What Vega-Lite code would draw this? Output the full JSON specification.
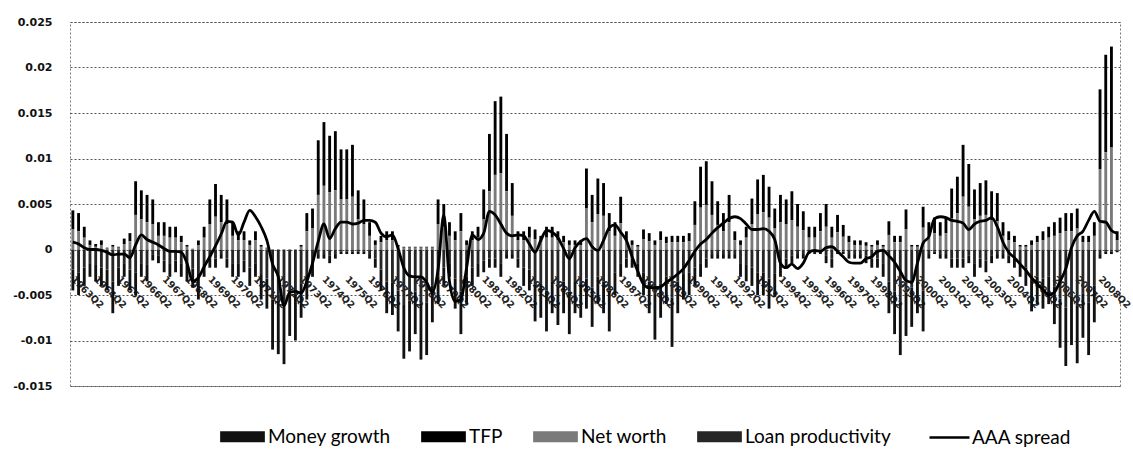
{
"$schema":"https://vega.github.io/schema/vega-lite/v6.json",
"width":1050,"height":364,
"autosize":{"type":"none"},
"padding":{"left":70,"top":22,"right":13,"bottom":63},
"background":"white",
"config":{"view":{"stroke":"#777","strokeDash":[2,2]},"font":"DejaVu Sans",
"axisX":{"title":null,"domain":false,"ticks":false,"grid":false,"labelAngle":45,"labelAlign":"left","labelBaseline":"middle","labelPadding":28,"labelFontSize":9.5,"labelFontWeight":"bold","labelColor":"#222","offset":-136.5,"zindex":1,"labelOverlap":false,"labelExpr":"indexof(datum.value,'Q2')>0 ? datum.value : ''"},
"axisY":{"title":null,"domain":false,"ticks":false,"grid":true,"gridDash":[2,2],"gridColor":"#555","values":[-0.015,-0.01,-0.005,0,0.005,0.01,0.015,0.02,0.025],"labelFont":"DejaVu Sans","labelFontWeight":"bold","labelFontSize":11,"labelPadding":18,"labelColor":"#111","labelExpr":"toString(datum.value)"}},
"data":{"values":[
{"q":"1963Q2","mg":-0.0023,"tfp":0.0021,"nw":0.0022,"lp":-0.0022,"aaa":0.0008},
{"q":"1963Q3","mg":-0.0025,"tfp":0.002,"nw":0.002,"lp":-0.0025,"aaa":0.0006},
{"q":"1963Q4","mg":-0.002,"tfp":0.0012,"nw":0.0013,"lp":-0.002,"aaa":0.0002},
{"q":"1964Q1","mg":-0.0015,"tfp":0.0005,"nw":0.0005,"lp":-0.0015,"aaa":0},
{"q":"1964Q2","mg":-0.0018,"tfp":0.0003,"nw":0.0003,"lp":-0.0017,"aaa":0},
{"q":"1964Q3","mg":-0.002,"tfp":0.0005,"nw":0.0005,"lp":-0.002,"aaa":-0.0001},
{"q":"1964Q4","mg":-0.0023,"tfp":0.0001,"nw":0.0001,"lp":-0.0022,"aaa":-0.0003},
{"q":"1965Q1","mg":-0.0035,"tfp":0.0002,"nw":0.0003,"lp":-0.0035,"aaa":-0.0006},
{"q":"1965Q2","mg":-0.002,"tfp":0.0001,"nw":0.0002,"lp":-0.002,"aaa":-0.0005},
{"q":"1965Q3","mg":-0.0015,"tfp":0.0006,"nw":0.0006,"lp":-0.0015,"aaa":-0.0005},
{"q":"1965Q4","mg":-0.0023,"tfp":0.0009,"nw":0.0009,"lp":-0.0022,"aaa":-0.0009},
{"q":"1966Q1","mg":-0.0025,"tfp":0.0037,"nw":0.0038,"lp":-0.0025,"aaa":0.0005},
{"q":"1966Q2","mg":-0.0015,"tfp":0.0032,"nw":0.0033,"lp":-0.0015,"aaa":0.0016},
{"q":"1966Q3","mg":-0.0018,"tfp":0.003,"nw":0.003,"lp":-0.0017,"aaa":0.0011},
{"q":"1966Q4","mg":-0.0006,"tfp":0.0027,"nw":0.0028,"lp":-0.0006,"aaa":0.0008},
{"q":"1967Q1","mg":-0.0008,"tfp":0.0015,"nw":0.0015,"lp":-0.0007,"aaa":0.0005},
{"q":"1967Q2","mg":-0.0013,"tfp":0.0015,"nw":0.0015,"lp":-0.0012,"aaa":0.0001},
{"q":"1967Q3","mg":-0.0015,"tfp":0.0012,"nw":0.0013,"lp":-0.0015,"aaa":-0.0002},
{"q":"1967Q4","mg":-0.0013,"tfp":0.0012,"nw":0.0013,"lp":-0.0012,"aaa":-0.0002},
{"q":"1968Q1","mg":-0.0015,"tfp":0.0007,"nw":0.0008,"lp":-0.0015,"aaa":-0.0003},
{"q":"1968Q2","mg":-0.0018,"tfp":0.0002,"nw":0.0003,"lp":-0.0017,"aaa":-0.0015},
{"q":"1968Q3","mg":-0.0021,"tfp":0,"nw":0.0001,"lp":-0.0021,"aaa":-0.0035},
{"q":"1968Q4","mg":-0.0028,"tfp":0.0005,"nw":0.0005,"lp":-0.0027,"aaa":-0.0031},
{"q":"1969Q1","mg":-0.0015,"tfp":0.0012,"nw":0.0013,"lp":-0.0015,"aaa":-0.0019},
{"q":"1969Q2","mg":-0.001,"tfp":0.0027,"nw":0.0028,"lp":-0.001,"aaa":-0.0008},
{"q":"1969Q3","mg":-0.001,"tfp":0.0036,"nw":0.0036,"lp":-0.001,"aaa":0.0004},
{"q":"1969Q4","mg":-0.0005,"tfp":0.003,"nw":0.003,"lp":-0.0005,"aaa":0.0017},
{"q":"1970Q1","mg":-0.001,"tfp":0.0027,"nw":0.0028,"lp":-0.001,"aaa":0.0031},
{"q":"1970Q2","mg":-0.0015,"tfp":0.0015,"nw":0.0015,"lp":-0.0015,"aaa":0.003},
{"q":"1970Q3","mg":-0.0015,"tfp":0.001,"nw":0.001,"lp":-0.0015,"aaa":0.0016},
{"q":"1970Q4","mg":-0.0013,"tfp":0.001,"nw":0.001,"lp":-0.0012,"aaa":0.003},
{"q":"1971Q1","mg":-0.002,"tfp":0.0005,"nw":0.0005,"lp":-0.002,"aaa":0.0043},
{"q":"1971Q2","mg":-0.0015,"tfp":0.001,"nw":0.001,"lp":-0.0015,"aaa":0.0036},
{"q":"1971Q3","mg":-0.0028,"tfp":0.0002,"nw":0.0003,"lp":-0.0027,"aaa":0.0025},
{"q":"1971Q4","mg":-0.0033,"tfp":0.0001,"nw":0.0001,"lp":-0.0032,"aaa":0.001},
{"q":"1972Q1","mg":-0.0055,"tfp":0,"nw":0,"lp":-0.0055,"aaa":-0.0016},
{"q":"1972Q2","mg":-0.0058,"tfp":0,"nw":0,"lp":-0.0057,"aaa":-0.003},
{"q":"1972Q3","mg":-0.0063,"tfp":0,"nw":0,"lp":-0.0063,"aaa":-0.0062},
{"q":"1972Q4","mg":-0.0048,"tfp":0,"nw":0,"lp":-0.0047,"aaa":-0.0047},
{"q":"1973Q1","mg":-0.005,"tfp":0,"nw":0,"lp":-0.005,"aaa":-0.0046},
{"q":"1973Q2","mg":-0.0038,"tfp":0.0002,"nw":0.0003,"lp":-0.0037,"aaa":-0.0048},
{"q":"1973Q3","mg":-0.0028,"tfp":0.002,"nw":0.002,"lp":-0.0027,"aaa":-0.0035},
{"q":"1973Q4","mg":-0.0015,"tfp":0.0022,"nw":0.0023,"lp":-0.0015,"aaa":-0.0015},
{"q":"1974Q1","mg":-0.0005,"tfp":0.006,"nw":0.006,"lp":-0.0005,"aaa":0.0009},
{"q":"1974Q2","mg":-0.0005,"tfp":0.007,"nw":0.007,"lp":-0.0005,"aaa":0.0028},
{"q":"1974Q3","mg":-0.0008,"tfp":0.0062,"nw":0.0063,"lp":-0.0007,"aaa":0.0012},
{"q":"1974Q4","mg":-0.0005,"tfp":0.0065,"nw":0.0065,"lp":-0.0005,"aaa":0.0023},
{"q":"1975Q1","mg":-0.0003,"tfp":0.0055,"nw":0.0055,"lp":-0.0002,"aaa":0.003},
{"q":"1975Q2","mg":-0.0003,"tfp":0.0055,"nw":0.0055,"lp":-0.0002,"aaa":0.003},
{"q":"1975Q3","mg":-0.0003,"tfp":0.0057,"nw":0.0058,"lp":-0.0002,"aaa":0.0028},
{"q":"1975Q4","mg":-0.0003,"tfp":0.0032,"nw":0.0033,"lp":-0.0002,"aaa":0.0029},
{"q":"1976Q1","mg":-0.0003,"tfp":0.0027,"nw":0.0028,"lp":-0.0002,"aaa":0.0032},
{"q":"1976Q2","mg":-0.0005,"tfp":0.0015,"nw":0.0015,"lp":-0.0005,"aaa":0.0032},
{"q":"1976Q3","mg":-0.001,"tfp":0.0005,"nw":0.0005,"lp":-0.001,"aaa":0.003},
{"q":"1976Q4","mg":-0.0023,"tfp":0.0007,"nw":0.0008,"lp":-0.0022,"aaa":0.0018},
{"q":"1977Q1","mg":-0.0035,"tfp":0.001,"nw":0.001,"lp":-0.0035,"aaa":0.0014},
{"q":"1977Q2","mg":-0.0036,"tfp":0.001,"nw":0.001,"lp":-0.0036,"aaa":0.0016},
{"q":"1977Q3","mg":-0.0045,"tfp":0.0002,"nw":0.0003,"lp":-0.0045,"aaa":0.0001},
{"q":"1977Q4","mg":-0.006,"tfp":0.0001,"nw":0.0002,"lp":-0.006,"aaa":-0.002},
{"q":"1978Q1","mg":-0.0056,"tfp":0.0001,"nw":0.0002,"lp":-0.0056,"aaa":-0.0029},
{"q":"1978Q2","mg":-0.0047,"tfp":0.0001,"nw":0.0002,"lp":-0.0046,"aaa":-0.003},
{"q":"1978Q3","mg":-0.0061,"tfp":0.0001,"nw":0.0002,"lp":-0.006,"aaa":-0.003},
{"q":"1978Q4","mg":-0.0058,"tfp":0.0001,"nw":0.0002,"lp":-0.0058,"aaa":-0.0036},
{"q":"1979Q1","mg":-0.004,"tfp":0.0001,"nw":0.0002,"lp":-0.004,"aaa":-0.0047},
{"q":"1979Q2","mg":-0.003,"tfp":0.0027,"nw":0.0028,"lp":-0.003,"aaa":-0.0022},
{"q":"1979Q3","mg":-0.002,"tfp":0.0025,"nw":0.0025,"lp":-0.002,"aaa":0.0038},
{"q":"1979Q4","mg":-0.0015,"tfp":0.0015,"nw":0.0015,"lp":-0.0015,"aaa":-0.0035},
{"q":"1980Q1","mg":-0.0033,"tfp":0.001,"nw":0.001,"lp":-0.0032,"aaa":-0.0057},
{"q":"1980Q2","mg":-0.0047,"tfp":0.002,"nw":0.002,"lp":-0.0046,"aaa":-0.0055},
{"q":"1980Q3","mg":-0.003,"tfp":0.0005,"nw":0.0005,"lp":-0.003,"aaa":-0.002},
{"q":"1980Q4","mg":-0.002,"tfp":0.001,"nw":0.001,"lp":-0.002,"aaa":0.0016},
{"q":"1981Q1","mg":-0.0015,"tfp":0.0012,"nw":0.0013,"lp":-0.0015,"aaa":0.0011},
{"q":"1981Q2","mg":-0.0013,"tfp":0.0033,"nw":0.0033,"lp":-0.0012,"aaa":0.0018},
{"q":"1981Q3","mg":-0.001,"tfp":0.0063,"nw":0.0064,"lp":-0.001,"aaa":0.0042},
{"q":"1981Q4","mg":-0.001,"tfp":0.0081,"nw":0.0082,"lp":-0.001,"aaa":0.0038},
{"q":"1982Q1","mg":-0.0015,"tfp":0.0084,"nw":0.0084,"lp":-0.0015,"aaa":0.0028},
{"q":"1982Q2","mg":-0.0005,"tfp":0.0063,"nw":0.0064,"lp":-0.0005,"aaa":0.0018},
{"q":"1982Q3","mg":-0.0005,"tfp":0.0036,"nw":0.0037,"lp":-0.0005,"aaa":0.0015},
{"q":"1982Q4","mg":-0.001,"tfp":0.001,"nw":0.001,"lp":-0.001,"aaa":0.0016},
{"q":"1983Q1","mg":-0.002,"tfp":0.001,"nw":0.001,"lp":-0.002,"aaa":0.0015},
{"q":"1983Q2","mg":-0.0023,"tfp":0.0012,"nw":0.0013,"lp":-0.0022,"aaa":0.0006},
{"q":"1983Q3","mg":-0.004,"tfp":0.0011,"nw":0.0011,"lp":-0.0039,"aaa":-0.0003},
{"q":"1983Q4","mg":-0.0038,"tfp":0.0007,"nw":0.0008,"lp":-0.0037,"aaa":0.001},
{"q":"1984Q1","mg":-0.0045,"tfp":0.0012,"nw":0.0013,"lp":-0.0045,"aaa":0.0021},
{"q":"1984Q2","mg":-0.0035,"tfp":0.0012,"nw":0.0013,"lp":-0.0035,"aaa":0.0019},
{"q":"1984Q3","mg":-0.0042,"tfp":0.001,"nw":0.001,"lp":-0.0041,"aaa":0.0013},
{"q":"1984Q4","mg":-0.0035,"tfp":0.0007,"nw":0.0008,"lp":-0.0035,"aaa":0.0001},
{"q":"1985Q1","mg":-0.0047,"tfp":0.0005,"nw":0.0005,"lp":-0.0046,"aaa":-0.001},
{"q":"1985Q2","mg":-0.0035,"tfp":0.0005,"nw":0.0005,"lp":-0.0035,"aaa":0.0002},
{"q":"1985Q3","mg":-0.0038,"tfp":0.0005,"nw":0.0005,"lp":-0.0037,"aaa":0.0009},
{"q":"1985Q4","mg":-0.0033,"tfp":0.0044,"nw":0.0045,"lp":-0.0032,"aaa":0.0012},
{"q":"1986Q1","mg":-0.0043,"tfp":0.003,"nw":0.003,"lp":-0.0042,"aaa":0.0003},
{"q":"1986Q2","mg":-0.003,"tfp":0.0039,"nw":0.0039,"lp":-0.003,"aaa":-0.0001},
{"q":"1986Q3","mg":-0.0035,"tfp":0.0036,"nw":0.0037,"lp":-0.0035,"aaa":0.001},
{"q":"1986Q4","mg":-0.0045,"tfp":0.002,"nw":0.002,"lp":-0.0045,"aaa":0.0024},
{"q":"1987Q1","mg":-0.0025,"tfp":0.0015,"nw":0.0015,"lp":-0.0025,"aaa":0.0027},
{"q":"1987Q2","mg":-0.0015,"tfp":0.0029,"nw":0.0029,"lp":-0.0015,"aaa":0.0019},
{"q":"1987Q3","mg":-0.001,"tfp":0.001,"nw":0.001,"lp":-0.001,"aaa":0.001},
{"q":"1987Q4","mg":-0.001,"tfp":0.0005,"nw":0.0005,"lp":-0.001,"aaa":-0.0008},
{"q":"1988Q1","mg":-0.0015,"tfp":0.0002,"nw":0.0003,"lp":-0.0015,"aaa":-0.0024},
{"q":"1988Q2","mg":-0.0025,"tfp":0.0011,"nw":0.0011,"lp":-0.0025,"aaa":-0.0038},
{"q":"1988Q3","mg":-0.0035,"tfp":0.0009,"nw":0.0009,"lp":-0.0035,"aaa":-0.0042},
{"q":"1988Q4","mg":-0.005,"tfp":0.0005,"nw":0.0005,"lp":-0.0049,"aaa":-0.0042},
{"q":"1989Q1","mg":-0.0038,"tfp":0.001,"nw":0.001,"lp":-0.0037,"aaa":-0.0041},
{"q":"1989Q2","mg":-0.003,"tfp":0.0007,"nw":0.0007,"lp":-0.003,"aaa":-0.0036},
{"q":"1989Q3","mg":-0.0054,"tfp":0.0007,"nw":0.0008,"lp":-0.0053,"aaa":-0.0032},
{"q":"1989Q4","mg":-0.0035,"tfp":0.0007,"nw":0.0008,"lp":-0.0035,"aaa":-0.0027},
{"q":"1990Q1","mg":-0.0028,"tfp":0.0007,"nw":0.0008,"lp":-0.0027,"aaa":-0.0021},
{"q":"1990Q2","mg":-0.0025,"tfp":0.0009,"nw":0.0009,"lp":-0.0025,"aaa":-0.0012},
{"q":"1990Q3","mg":-0.002,"tfp":0.0026,"nw":0.0027,"lp":-0.002,"aaa":-0.0002},
{"q":"1990Q4","mg":-0.0015,"tfp":0.0045,"nw":0.0046,"lp":-0.0015,"aaa":0.0006},
{"q":"1991Q1","mg":-0.001,"tfp":0.0048,"nw":0.0049,"lp":-0.001,"aaa":0.0011},
{"q":"1991Q2","mg":-0.0005,"tfp":0.0037,"nw":0.0038,"lp":-0.0005,"aaa":0.0018},
{"q":"1991Q3","mg":-0.0005,"tfp":0.0026,"nw":0.0027,"lp":-0.0005,"aaa":0.0024},
{"q":"1991Q4","mg":-0.0005,"tfp":0.002,"nw":0.002,"lp":-0.0005,"aaa":0.0029},
{"q":"1992Q1","mg":-0.0005,"tfp":0.003,"nw":0.003,"lp":-0.0005,"aaa":0.0034},
{"q":"1992Q2","mg":-0.0005,"tfp":0.001,"nw":0.001,"lp":-0.0005,"aaa":0.0036},
{"q":"1992Q3","mg":-0.0015,"tfp":0.0005,"nw":0.0005,"lp":-0.0015,"aaa":0.0034},
{"q":"1992Q4","mg":-0.0018,"tfp":0.0012,"nw":0.0013,"lp":-0.0017,"aaa":0.0028},
{"q":"1993Q1","mg":-0.002,"tfp":0.0028,"nw":0.0028,"lp":-0.002,"aaa":0.0022},
{"q":"1993Q2","mg":-0.0025,"tfp":0.0038,"nw":0.0039,"lp":-0.0025,"aaa":0.0022},
{"q":"1993Q3","mg":-0.0025,"tfp":0.0041,"nw":0.0041,"lp":-0.0025,"aaa":0.0023},
{"q":"1993Q4","mg":-0.0033,"tfp":0.0034,"nw":0.0035,"lp":-0.0032,"aaa":0.002},
{"q":"1994Q1","mg":-0.0026,"tfp":0.0022,"nw":0.0023,"lp":-0.0026,"aaa":0.0011},
{"q":"1994Q2","mg":-0.0015,"tfp":0.003,"nw":0.003,"lp":-0.0015,"aaa":-0.0015},
{"q":"1994Q3","mg":-0.001,"tfp":0.0027,"nw":0.0028,"lp":-0.001,"aaa":-0.002},
{"q":"1994Q4","mg":-0.0008,"tfp":0.0032,"nw":0.0032,"lp":-0.0007,"aaa":-0.0016},
{"q":"1995Q1","mg":-0.0005,"tfp":0.0025,"nw":0.0025,"lp":-0.0005,"aaa":-0.0021},
{"q":"1995Q2","mg":-0.0005,"tfp":0.0021,"nw":0.0021,"lp":-0.0005,"aaa":-0.0015},
{"q":"1995Q3","mg":-0.0003,"tfp":0.0012,"nw":0.0013,"lp":-0.0002,"aaa":-0.0003},
{"q":"1995Q4","mg":-0.0003,"tfp":0.0012,"nw":0.0013,"lp":-0.0002,"aaa":-0.0001},
{"q":"1996Q1","mg":-0.0003,"tfp":0.002,"nw":0.002,"lp":-0.0002,"aaa":-0.0002},
{"q":"1996Q2","mg":-0.0008,"tfp":0.0025,"nw":0.0025,"lp":-0.0007,"aaa":0.0002},
{"q":"1996Q3","mg":-0.001,"tfp":0.0012,"nw":0.0013,"lp":-0.001,"aaa":0.0003},
{"q":"1996Q4","mg":-0.0003,"tfp":0.0019,"nw":0.0019,"lp":-0.0002,"aaa":-0.0002},
{"q":"1997Q1","mg":-0.0003,"tfp":0.0013,"nw":0.0014,"lp":-0.0002,"aaa":-0.0008},
{"q":"1997Q2","mg":-0.0005,"tfp":0.0007,"nw":0.0008,"lp":-0.0005,"aaa":-0.0014},
{"q":"1997Q3","mg":-0.0005,"tfp":0.0005,"nw":0.0005,"lp":-0.0005,"aaa":-0.0015},
{"q":"1997Q4","mg":-0.0005,"tfp":0.0005,"nw":0.0005,"lp":-0.0005,"aaa":-0.0015},
{"q":"1998Q1","mg":-0.0008,"tfp":0.0004,"nw":0.0004,"lp":-0.0007,"aaa":-0.001},
{"q":"1998Q2","mg":-0.001,"tfp":0.0002,"nw":0.0003,"lp":-0.001,"aaa":-0.0008},
{"q":"1998Q3","mg":-0.001,"tfp":0.0005,"nw":0.0005,"lp":-0.001,"aaa":-0.0002},
{"q":"1998Q4","mg":-0.0015,"tfp":0.0002,"nw":0.0003,"lp":-0.0015,"aaa":-0.0001},
{"q":"1999Q1","mg":-0.0035,"tfp":0.0015,"nw":0.0016,"lp":-0.0035,"aaa":-0.0007},
{"q":"1999Q2","mg":-0.0047,"tfp":0.0007,"nw":0.0008,"lp":-0.0046,"aaa":-0.0014},
{"q":"1999Q3","mg":-0.0058,"tfp":0.0007,"nw":0.0008,"lp":-0.0058,"aaa":-0.0024},
{"q":"1999Q4","mg":-0.0048,"tfp":0.0022,"nw":0.0022,"lp":-0.0047,"aaa":-0.0034},
{"q":"2000Q1","mg":-0.0043,"tfp":0.0002,"nw":0.0003,"lp":-0.0042,"aaa":-0.0036},
{"q":"2000Q2","mg":-0.0035,"tfp":0.0002,"nw":0.0003,"lp":-0.0035,"aaa":-0.0015},
{"q":"2000Q3","mg":-0.0045,"tfp":0.0023,"nw":0.0024,"lp":-0.0045,"aaa":0.0007},
{"q":"2000Q4","mg":-0.0005,"tfp":0.0015,"nw":0.0015,"lp":-0.0005,"aaa":0.0014},
{"q":"2001Q1","mg":-0.0003,"tfp":0.0017,"nw":0.0018,"lp":-0.0002,"aaa":0.0034},
{"q":"2001Q2","mg":-0.0005,"tfp":0.0015,"nw":0.0015,"lp":-0.0005,"aaa":0.0036},
{"q":"2001Q3","mg":-0.0005,"tfp":0.0017,"nw":0.0018,"lp":-0.0005,"aaa":0.0035},
{"q":"2001Q4","mg":-0.001,"tfp":0.0033,"nw":0.0034,"lp":-0.001,"aaa":0.0032},
{"q":"2002Q1","mg":-0.001,"tfp":0.004,"nw":0.004,"lp":-0.001,"aaa":0.0031},
{"q":"2002Q2","mg":-0.001,"tfp":0.0057,"nw":0.0058,"lp":-0.001,"aaa":0.0029},
{"q":"2002Q3","mg":-0.0008,"tfp":0.0047,"nw":0.0047,"lp":-0.0007,"aaa":0.0022},
{"q":"2002Q4","mg":-0.0015,"tfp":0.0033,"nw":0.0033,"lp":-0.0015,"aaa":0.0028},
{"q":"2003Q1","mg":-0.001,"tfp":0.0036,"nw":0.0037,"lp":-0.001,"aaa":0.0031},
{"q":"2003Q2","mg":-0.0013,"tfp":0.0038,"nw":0.0038,"lp":-0.0012,"aaa":0.0032},
{"q":"2003Q3","mg":-0.0008,"tfp":0.0032,"nw":0.0032,"lp":-0.0007,"aaa":0.0035},
{"q":"2003Q4","mg":-0.0005,"tfp":0.0031,"nw":0.0031,"lp":-0.0005,"aaa":0.0025},
{"q":"2004Q1","mg":-0.0005,"tfp":0.0015,"nw":0.0015,"lp":-0.0005,"aaa":0.0008},
{"q":"2004Q2","mg":-0.0008,"tfp":0.001,"nw":0.001,"lp":-0.0007,"aaa":-0.0003},
{"q":"2004Q3","mg":-0.001,"tfp":0.0007,"nw":0.0008,"lp":-0.001,"aaa":-0.0009},
{"q":"2004Q4","mg":-0.0015,"tfp":0.0002,"nw":0.0003,"lp":-0.0015,"aaa":-0.0016},
{"q":"2005Q1","mg":-0.002,"tfp":0.0002,"nw":0.0003,"lp":-0.002,"aaa":-0.0023},
{"q":"2005Q2","mg":-0.0034,"tfp":0.0005,"nw":0.0005,"lp":-0.0034,"aaa":-0.0031},
{"q":"2005Q3","mg":-0.003,"tfp":0.0007,"nw":0.0008,"lp":-0.003,"aaa":-0.0038},
{"q":"2005Q4","mg":-0.0033,"tfp":0.001,"nw":0.001,"lp":-0.0032,"aaa":-0.0044},
{"q":"2006Q1","mg":-0.003,"tfp":0.0012,"nw":0.0013,"lp":-0.003,"aaa":-0.005},
{"q":"2006Q2","mg":-0.0041,"tfp":0.0015,"nw":0.0015,"lp":-0.0041,"aaa":-0.0047},
{"q":"2006Q3","mg":-0.0054,"tfp":0.0017,"nw":0.0018,"lp":-0.0054,"aaa":-0.0035},
{"q":"2006Q4","mg":-0.0064,"tfp":0.002,"nw":0.002,"lp":-0.0064,"aaa":-0.0021},
{"q":"2007Q1","mg":-0.0053,"tfp":0.002,"nw":0.002,"lp":-0.0052,"aaa":0.0002},
{"q":"2007Q2","mg":-0.0063,"tfp":0.0022,"nw":0.0023,"lp":-0.0062,"aaa":0.0015},
{"q":"2007Q3","mg":-0.0049,"tfp":0.0007,"nw":0.0008,"lp":-0.0048,"aaa":0.002},
{"q":"2007Q4","mg":-0.0058,"tfp":0.0007,"nw":0.0008,"lp":-0.0058,"aaa":0.0032},
{"q":"2008Q1","mg":-0.004,"tfp":0.0015,"nw":0.0015,"lp":-0.004,"aaa":0.0042},
{"q":"2008Q2","mg":-0.0005,"tfp":0.0088,"nw":0.0088,"lp":-0.0005,"aaa":0.0031},
{"q":"2008Q3","mg":-0.0003,"tfp":0.0107,"nw":0.0107,"lp":-0.0002,"aaa":0.003},
{"q":"2008Q4","mg":-0.0003,"tfp":0.0111,"nw":0.0112,"lp":-0.0002,"aaa":0.0021},
{"q":"2009Q1","mg":-0.0002,"tfp":0.001,"nw":0.001,"lp":-0.0001,"aaa":0.0018}
]},
"layer":[
{"transform":[{"fold":["mg","tfp","nw","lp"],"as":["comp","val"]}],
 "mark":{"type":"bar"},
 "encoding":{
  "x":{"field":"q","type":"ordinal","sort":null,"scale":{"paddingInner":0.5,"paddingOuter":0.25}},
  "y":{"field":"val","type":"quantitative","stack":"zero","scale":{"domain":[-0.015,0.025],"nice":false,"zero":false}},
  "color":{"field":"comp","type":"nominal","scale":{"domain":["mg","tfp","nw","lp"],"range":["#111111","#000000","#7a7a7a","#262626"]},
   "legend":{"orient":"none","legendX":150,"legendY":392,"direction":"horizontal","title":null,"symbolType":"M-1,-0.25H1V0.25H-1Z","symbolSize":2000,"symbolStrokeWidth":0,"symbolOpacity":1,"labelFont":"Lato","labelFontSize":19,"labelColor":"#000","columnPadding":30,"labelOffset":3,"labelLimit":300,
    "labelExpr":"datum.label=='mg' ? 'Money growth' : datum.label=='tfp' ? 'TFP' : datum.label=='nw' ? 'Net worth' : 'Loan productivity'"}},
  "order":{"field":"comp","sort":"ascending"}
 }},
{"mark":{"type":"line","strokeWidth":2.8,"interpolate":"monotone"},
 "encoding":{
  "x":{"field":"q","type":"ordinal","sort":null},
  "y":{"field":"aaa","type":"quantitative"},
  "stroke":{"datum":"AAA spread","type":"nominal","scale":{"range":["#000000"]},
   "legend":{"orient":"none","legendX":858,"legendY":394,"title":null,"symbolType":"stroke","symbolSize":1600,"symbolStrokeWidth":2.5,"labelFont":"Lato","labelFontSize":19,"labelColor":"#000","labelOffset":1,"labelLimit":300}}
 }}
]
}
